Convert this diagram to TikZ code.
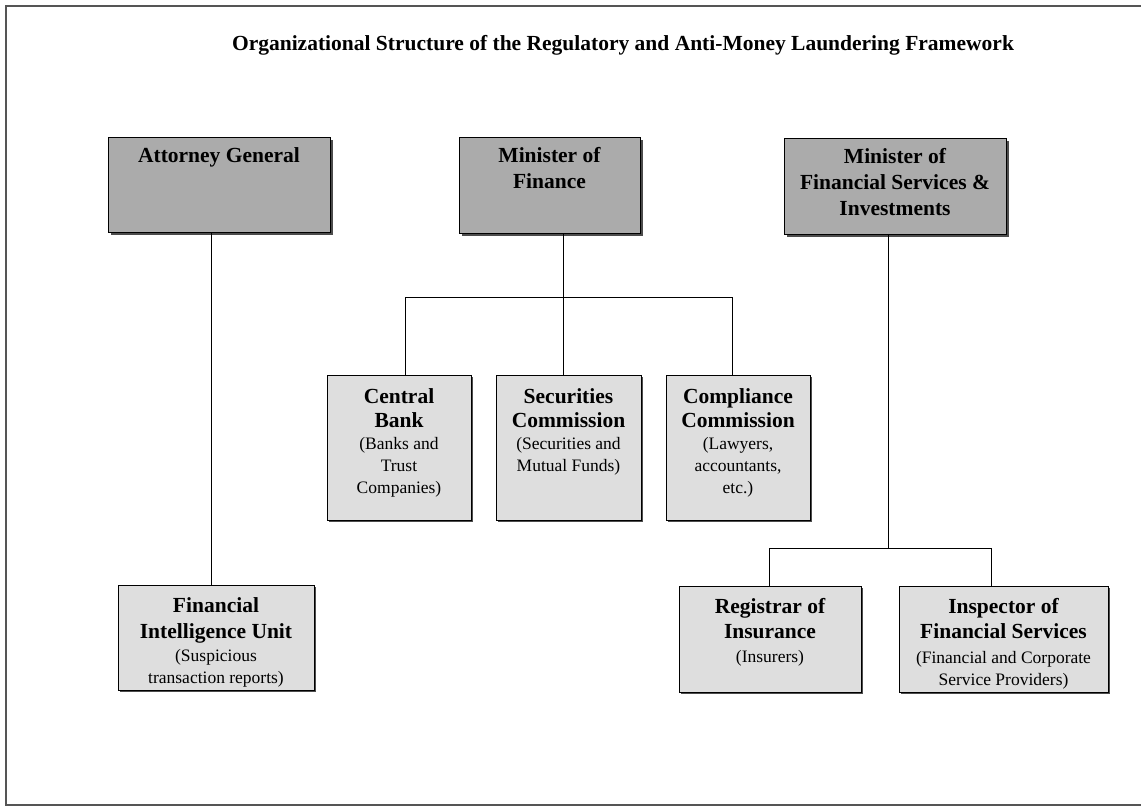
\documentclass[tikz,border=0pt]{standalone}
\usepackage{fontspec}
\setmainfont{Liberation Serif}
\usetikzlibrary{shadows}
\definecolor{boxdark}{HTML}{ABABAB}
\definecolor{boxlight}{HTML}{DEDEDE}
\definecolor{framegray}{HTML}{555555}
\newcommand{\hd}[1]{{\bfseries\fontsize{21.5}{22}\selectfont #1}}
\begin{document}
\begin{tikzpicture}[x=1pt,y=-1pt,
  darkbox/.style={draw=black, line width=1pt, fill=boxdark, rectangle, inner sep=0pt,
     drop shadow={shadow xshift=2.5pt, shadow yshift=-2.5pt, fill=black!70, opacity=1}},
  lightbox/.style={draw=black, line width=1pt, fill=boxlight, rectangle, inner sep=0pt,
     drop shadow={shadow xshift=1.5pt, shadow yshift=-1.5pt, fill=black!70, opacity=1}},
  darktext/.style={anchor=north, align=center, inner sep=0pt, font=\bfseries\fontsize{21.5}{26}\selectfont},
  lighttext/.style={anchor=north, align=center, inner sep=0pt, font=\fontsize{17.5}{22}\selectfont},
  conn/.style={draw=black, line width=1pt}
]
\useasboundingbox (0,0) rectangle (1141,808);
\fill[white] (0,0) rectangle (1141,808);
% page frame
\draw[framegray, line width=1.5pt] (1141,6) -- (6,6) -- (6,805) -- (1141,805);

% title
\node[font=\bfseries\fontsize{21.5}{24}\selectfont, inner sep=0pt] (title) at (623,45)
  {Organizational Structure of the Regulatory and Anti-Money Laundering Framework};

% top boxes
\node[darkbox, minimum width=222pt, minimum height=95pt] (ag) at (219,184.5) {};
\node[darkbox, minimum width=181pt, minimum height=96pt] (mof) at (549.5,185) {};
\node[darkbox, minimum width=222pt, minimum height=96pt] (mfs) at (895,186) {};
\node[darktext] (agt) at ([yshift=-11pt]ag.north) {Attorney General};
\node[darktext] (moft) at ([yshift=-11pt]mof.north) {Minister of\\Finance};
\node[darktext] (mfst) at ([yshift=-11pt]mfs.north) {Minister of\\Financial Services \&\\Investments};

% middle boxes
\node[lightbox, minimum width=144pt, minimum height=145pt] (cb) at (399,447.5) {};
\node[lightbox, minimum width=145pt, minimum height=145pt] (sc) at (568.5,447.5) {};
\node[lightbox, minimum width=144pt, minimum height=145pt] (cc) at (738,447.5) {};
\node[lighttext] (cbt) at ([yshift=-14pt]cb.north) {\hd{Central}\\[2pt]\hd{Bank}\\(Banks and\\Trust\\Companies)};
\node[lighttext] (sct) at ([yshift=-14pt]sc.north) {\hd{Securities}\\[2pt]\hd{Commission}\\(Securities and\\Mutual Funds)};
\node[lighttext] (cct) at ([yshift=-14pt]cc.north) {\hd{Compliance}\\[2pt]\hd{Commission}\\(Lawyers,\\accountants,\\etc.)};

% bottom boxes
\node[lightbox, minimum width=196pt, minimum height=105pt] (fiu) at (216,637.5) {};
\node[lightbox, minimum width=182pt, minimum height=106pt] (ri) at (770,639) {};
\node[lightbox, minimum width=209pt, minimum height=106pt] (ifs) at (1003.5,639) {};
\node[lighttext] (fiut) at ([yshift=-13pt]fiu.north) {\hd{Financial}\\[4pt]\hd{Intelligence Unit}\\[1pt](Suspicious\\transaction reports)};
\node[lighttext] (rit) at ([yshift=-13pt]ri.north) {\hd{Registrar of}\\[3pt]\hd{Insurance}\\[2pt](Insurers)};
\node[lighttext] (ifst) at ([yshift=-13pt]ifs.north) {\hd{Inspector of}\\[3pt]\hd{Financial Services}\\[3pt](Financial and Corporate\\Service Providers)};

% connectors
\coordinate (agl) at (211,0);
\draw[conn] (agl |- ag.south) -- (agl |- fiu.north);

\coordinate (mofj) at (563,297);
\coordinate (cbj) at (405,297);
\coordinate (ccj) at (732,297);
\draw[conn] (mofj |- mof.south) -- (mofj |- sc.north);
\draw[conn] (cbj |- cb.north) -- (cbj) -- (ccj) -- (ccj |- cc.north);

\coordinate (mfsj) at (888,548);
\coordinate (rij) at (769,548);
\coordinate (ifsj) at (991,548);
\draw[conn] (mfsj |- mfs.south) -- (mfsj);
\draw[conn] (rij |- ri.north) -- (rij) -- (ifsj) -- (ifsj |- ifs.north);
\end{tikzpicture}
\end{document}
